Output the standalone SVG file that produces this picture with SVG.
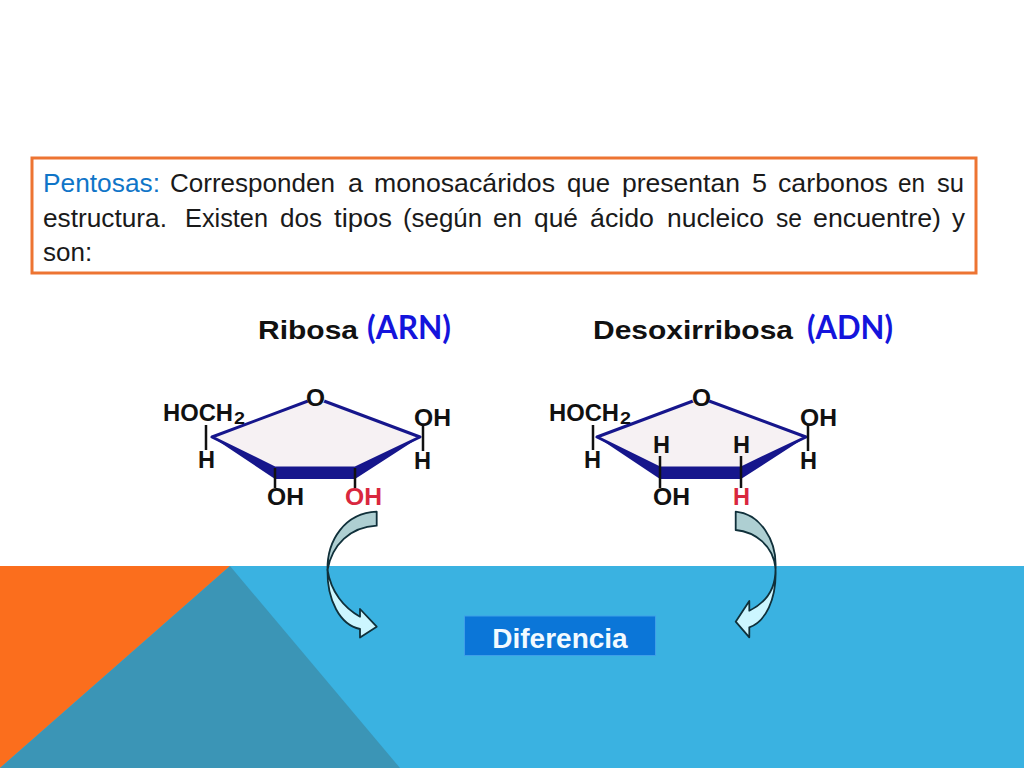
<svg xmlns="http://www.w3.org/2000/svg" width="1024" height="768" viewBox="0 0 1024 768">
<style>
.t{font-family:"Liberation Sans",Arial,sans-serif;font-size:26px;fill:#1a1a1a}
.c{font-family:"Liberation Sans",Arial,sans-serif;font-weight:bold;font-size:24px;fill:#111}
.s{font-size:16px}
.r{fill:#d9273e}
.ring{fill:#f6f1f3;stroke:#16168c;stroke-width:3;stroke-linejoin:round}
.band{fill:#16168c}
.b{stroke:#111;stroke-width:2.5;fill:none}
.title{font-family:"Liberation Sans",Arial,sans-serif;font-weight:bold;font-size:26px;fill:#111}
.paren{font-family:Lato,"Noto Sans",sans-serif;font-weight:bold;font-size:32px;fill:#1414dc}
.back{fill:#aecfd2;stroke:#10303a;stroke-width:1.8;stroke-linejoin:round}
.front{fill:#ccf6ff;stroke:#10303a;stroke-width:1.8;stroke-linejoin:round}
</style>
<rect width="1024" height="768" fill="#fff"/>
<g id="background">
<rect x="0" y="566" width="1024" height="202" fill="#3ab2e1"/>
<polygon points="0,566 230,566 0,768" fill="#fb6e1d"/>
<polygon points="230,566 400,768 0,768" fill="#3b95b6"/>
</g>
<g id="definition">
<rect x="32" y="158" width="944" height="115" fill="#fff" stroke="#ed7432" stroke-width="3"/>
<text class="t" y="192"><tspan x="43" textLength="117" lengthAdjust="spacingAndGlyphs" fill="#0f75c8">Pentosas:</tspan> <tspan x="170" textLength="165" lengthAdjust="spacingAndGlyphs">Corresponden</tspan> <tspan x="348" textLength="15" lengthAdjust="spacingAndGlyphs">a</tspan> <tspan x="374" textLength="181" lengthAdjust="spacingAndGlyphs">monosacáridos</tspan> <tspan x="567" textLength="43" lengthAdjust="spacingAndGlyphs">que</tspan> <tspan x="622" textLength="118" lengthAdjust="spacingAndGlyphs">presentan</tspan> <tspan x="752" textLength="15" lengthAdjust="spacingAndGlyphs">5</tspan> <tspan x="778" textLength="110" lengthAdjust="spacingAndGlyphs">carbonos</tspan> <tspan x="898" textLength="27" lengthAdjust="spacingAndGlyphs">en</tspan> <tspan x="937" textLength="27" lengthAdjust="spacingAndGlyphs">su</tspan></text>
<text class="t" y="227"><tspan x="43" textLength="124" lengthAdjust="spacingAndGlyphs">estructura.</tspan> <tspan x="185" textLength="83" lengthAdjust="spacingAndGlyphs">Existen</tspan> <tspan x="280" textLength="42" lengthAdjust="spacingAndGlyphs">dos</tspan> <tspan x="334" textLength="58" lengthAdjust="spacingAndGlyphs">tipos</tspan> <tspan x="403" textLength="79" lengthAdjust="spacingAndGlyphs">(según</tspan> <tspan x="493" textLength="29" lengthAdjust="spacingAndGlyphs">en</tspan> <tspan x="534" textLength="44" lengthAdjust="spacingAndGlyphs">qué</tspan> <tspan x="590" textLength="64" lengthAdjust="spacingAndGlyphs">ácido</tspan> <tspan x="667" textLength="97" lengthAdjust="spacingAndGlyphs">nucleico</tspan> <tspan x="776" textLength="26" lengthAdjust="spacingAndGlyphs">se</tspan> <tspan x="813" textLength="128" lengthAdjust="spacingAndGlyphs">encuentre)</tspan> <tspan x="952" textLength="13" lengthAdjust="spacingAndGlyphs">y</tspan></text>
<text class="t" x="43" y="261">son:</text>
</g>
<g id="ribosa">
<text class="title" x="258" y="339" textLength="100" lengthAdjust="spacingAndGlyphs">Ribosa</text>
<text class="paren" x="367" y="339" textLength="84" lengthAdjust="spacingAndGlyphs">(ARN)</text>
<polygon class="ring" points="212,437 316,398 420,437 355,468 275,468"/>
<path class="band" d="M212,437L275,468H355L420,437L355,479H275Z"/>
<path class="b" d="M206,425V450M423,437V451M423,425V437M275,468V488M355,468V488"/>
<ellipse cx="316" cy="398" rx="9" ry="8" fill="#fff"/>
<text class="c" x="163" y="421" textLength="70" lengthAdjust="spacingAndGlyphs">HOCH</text>
<text class="c s" x="234" y="424" textLength="11" lengthAdjust="spacingAndGlyphs">2</text>
<text class="c" x="306" y="406" textLength="19" lengthAdjust="spacingAndGlyphs">O</text>
<text class="c" x="414" y="426" textLength="37" lengthAdjust="spacingAndGlyphs">OH</text>
<text class="c" x="198" y="468" textLength="17" lengthAdjust="spacingAndGlyphs">H</text>
<text class="c" x="414" y="469" textLength="17" lengthAdjust="spacingAndGlyphs">H</text>
<text class="c" x="267" y="505" textLength="37" lengthAdjust="spacingAndGlyphs">OH</text>
<text class="c r" x="345" y="505" textLength="37" lengthAdjust="spacingAndGlyphs" style="fill:#d9273e">OH</text>
</g>
<g id="desoxirribosa">
<text class="title" x="593" y="339" textLength="200" lengthAdjust="spacingAndGlyphs">Desoxirribosa</text>
<text class="paren" x="807" y="339" textLength="86" lengthAdjust="spacingAndGlyphs">(ADN)</text>
<polygon class="ring" points="597,437 701,398 806,437 741,468 660,468"/>
<path class="band" d="M597,437L660,468H741L806,437L741,479H660Z"/>
<path class="b" d="M593,425V450M808,437V451M808,425V437M660,456V488M741,456V488"/>
<ellipse cx="701" cy="398" rx="9" ry="8" fill="#fff"/>
<text class="c" x="549" y="421" textLength="70" lengthAdjust="spacingAndGlyphs">HOCH</text>
<text class="c s" x="620" y="424" textLength="11" lengthAdjust="spacingAndGlyphs">2</text>
<text class="c" x="692" y="406" textLength="19" lengthAdjust="spacingAndGlyphs">O</text>
<text class="c" x="800" y="426" textLength="37" lengthAdjust="spacingAndGlyphs">OH</text>
<text class="c" x="584" y="468" textLength="17" lengthAdjust="spacingAndGlyphs">H</text>
<text class="c" x="800" y="469" textLength="17" lengthAdjust="spacingAndGlyphs">H</text>
<text class="c" x="653" y="453" textLength="17" lengthAdjust="spacingAndGlyphs">H</text>
<text class="c" x="733" y="453" textLength="17" lengthAdjust="spacingAndGlyphs">H</text>
<text class="c" x="653" y="505" textLength="37" lengthAdjust="spacingAndGlyphs">OH</text>
<text class="c" x="733" y="505" textLength="17" lengthAdjust="spacingAndGlyphs" style="fill:#d9273e">H</text>
</g>
<g id="connectors">
<path class="front" d="M327.500,570C327,600 340,625 360,629V637.500L376.700,626.700L360,609V616.700C344,608 331,592 327.500,570Z"/>
<path class="back" d="M376.700,511.700V525.700C350,527 332,545 327.500,570C327,540 345,513 376.700,511.700Z"/>
<path class="front" d="M775.500,568C777,600 765,622 749.300,627.300V637.300L735.700,621.700L749.300,601V610.700C765,603 776,590 775.500,568Z"/>
<path class="back" d="M735.700,511.700V530C755,532 773,545 775.500,568C777,540 760,514 735.700,511.700Z"/>
</g>
<g id="diferencia">
<rect x="464.500" y="616" width="191" height="39.500" fill="#0b76d8" stroke="#3f9fe8" stroke-width="1"/>
<text x="560" y="648" text-anchor="middle" style="font-family:'Liberation Sans',Arial,sans-serif;font-weight:bold;font-size:28px;fill:#f2faff">Diferencia</text>
</g>
</svg>
